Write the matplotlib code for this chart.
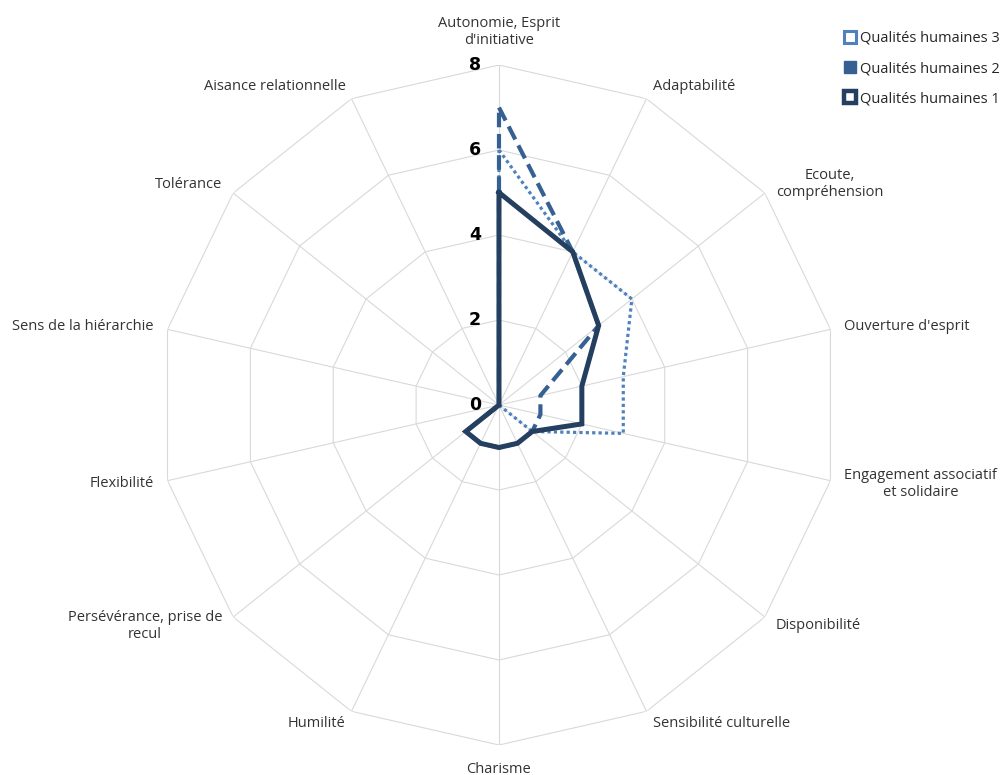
import numpy as np
import matplotlib
matplotlib.use('Agg')
import matplotlib.pyplot as plt
from matplotlib.lines import Line2D

matplotlib.rcParams.update({'font.family': 'Open Sans', 'font.size': 10.5})

categories = ["Autonomie, Esprit\nd'initiative", "Adaptabilité", "Ecoute,\ncompréhension",
              "Ouverture d'esprit", "Engagement associatif\net solidaire", "Disponibilité",
              "Sensibilité culturelle", "Charisme", "Humilité",
              "Persévérance, prise de\nrecul", "Flexibilité", "Sens de la hiérarchie",
              "Tolérance", "Aisance relationnelle"]
qh1 = [5, 4, 3, 2, 2, 1, 1, 1, 1, 1, 0, 0, 0, 0]
qh2 = [7, 4, 3, 1, 1, 1, 1, 1, 1, 1, 0, 0, 0, 0]
qh3 = [6, 4, 4, 3, 3, 1, 0, 0, 0, 0, 0, 0, 0, 0]
ticks = [0, 2, 4, 6, 8]

c1 = '#243f60'
c2 = '#366092'
c3 = '#4f81bd'
grid_c = '#d9d9d9'

n = len(categories)
theta = np.arange(n) * 2 * np.pi / n
theta_c = np.append(theta, theta[0])

fig = plt.figure(figsize=(10.05, 7.75), dpi=100)
ax = fig.add_axes([0.1582, 0.0387, 0.6766, 0.8774], projection='polar')
ax.set_theta_zero_location('N')
ax.set_theta_direction(-1)
ax.set_ylim(0, 8)
ax.grid(False)
ax.spines['polar'].set_visible(False)
ax.set_xticks([])
ax.set_yticks([])
ax.patch.set_alpha(0)

# polygon grid
for t in ticks[1:]:
    ax.plot(theta_c, [t] * (n + 1), color=grid_c, lw=0.8, zorder=1)
for th in theta:
    ax.plot([th, th], [0, 8], color=grid_c, lw=0.8, zorder=1)

def close(v):
    return list(v) + [v[0]]

ax.plot(theta_c, close(qh3), color=c3, lw=2.3, dashes=(1, 1),
        dash_capstyle='butt', zorder=3)
ax.plot(theta_c, close(qh2), color=c2, lw=3.0, dashes=(3.5, 1.6),
        dash_capstyle='butt', zorder=4)
ax.plot(theta_c, close(qh1), color=c1, lw=3.6, zorder=5, solid_joinstyle='miter')

# radial tick labels
for t in ticks:
    ax.annotate(str(t), xy=(0, t), xytext=(-13, 0), textcoords='offset points',
                ha='right', va='center', fontsize=12.5, fontweight='bold',
                family='DejaVu Sans', annotation_clip=False)

# category labels
for th, lab in zip(theta, categories):
    s, c = np.sin(th), np.cos(th)
    if abs(s) < 0.1:
        ha = 'center'
    elif s > 0:
        ha = 'left'
    else:
        ha = 'right'
    if c > 0.95:
        va = 'bottom'
    elif c < -0.95:
        va = 'top'
    else:
        va = 'center'
    off = 10 if abs(c) < 0.95 else 12
    ax.annotate(lab, xy=(th, 8), xytext=(off * s, off * c), textcoords='offset points',
                ha=ha, va=va, multialignment='center', color='#333333',
                annotation_clip=False)

handles = [
    Line2D([], [], ls='none', marker='s', ms=9, mfc='white', mec=c3, mew=2.2,
           label='Qualités humaines 3'),
    Line2D([], [], ls='none', marker='s', ms=9, color=c2, label='Qualités humaines 2'),
    Line2D([], [], ls='none', marker='s', ms=9, mfc='white', mec=c1, mew=3.2,
           label='Qualités humaines 1'),
]
fig.legend(handles=handles, loc='upper right', bbox_to_anchor=(1.008, 0.977),
           frameon=False, handlelength=0.8, handletextpad=0.3, labelspacing=1.05,
           fontsize=10.5, labelcolor='#262626')

fig.savefig('out.png', dpi=100)
